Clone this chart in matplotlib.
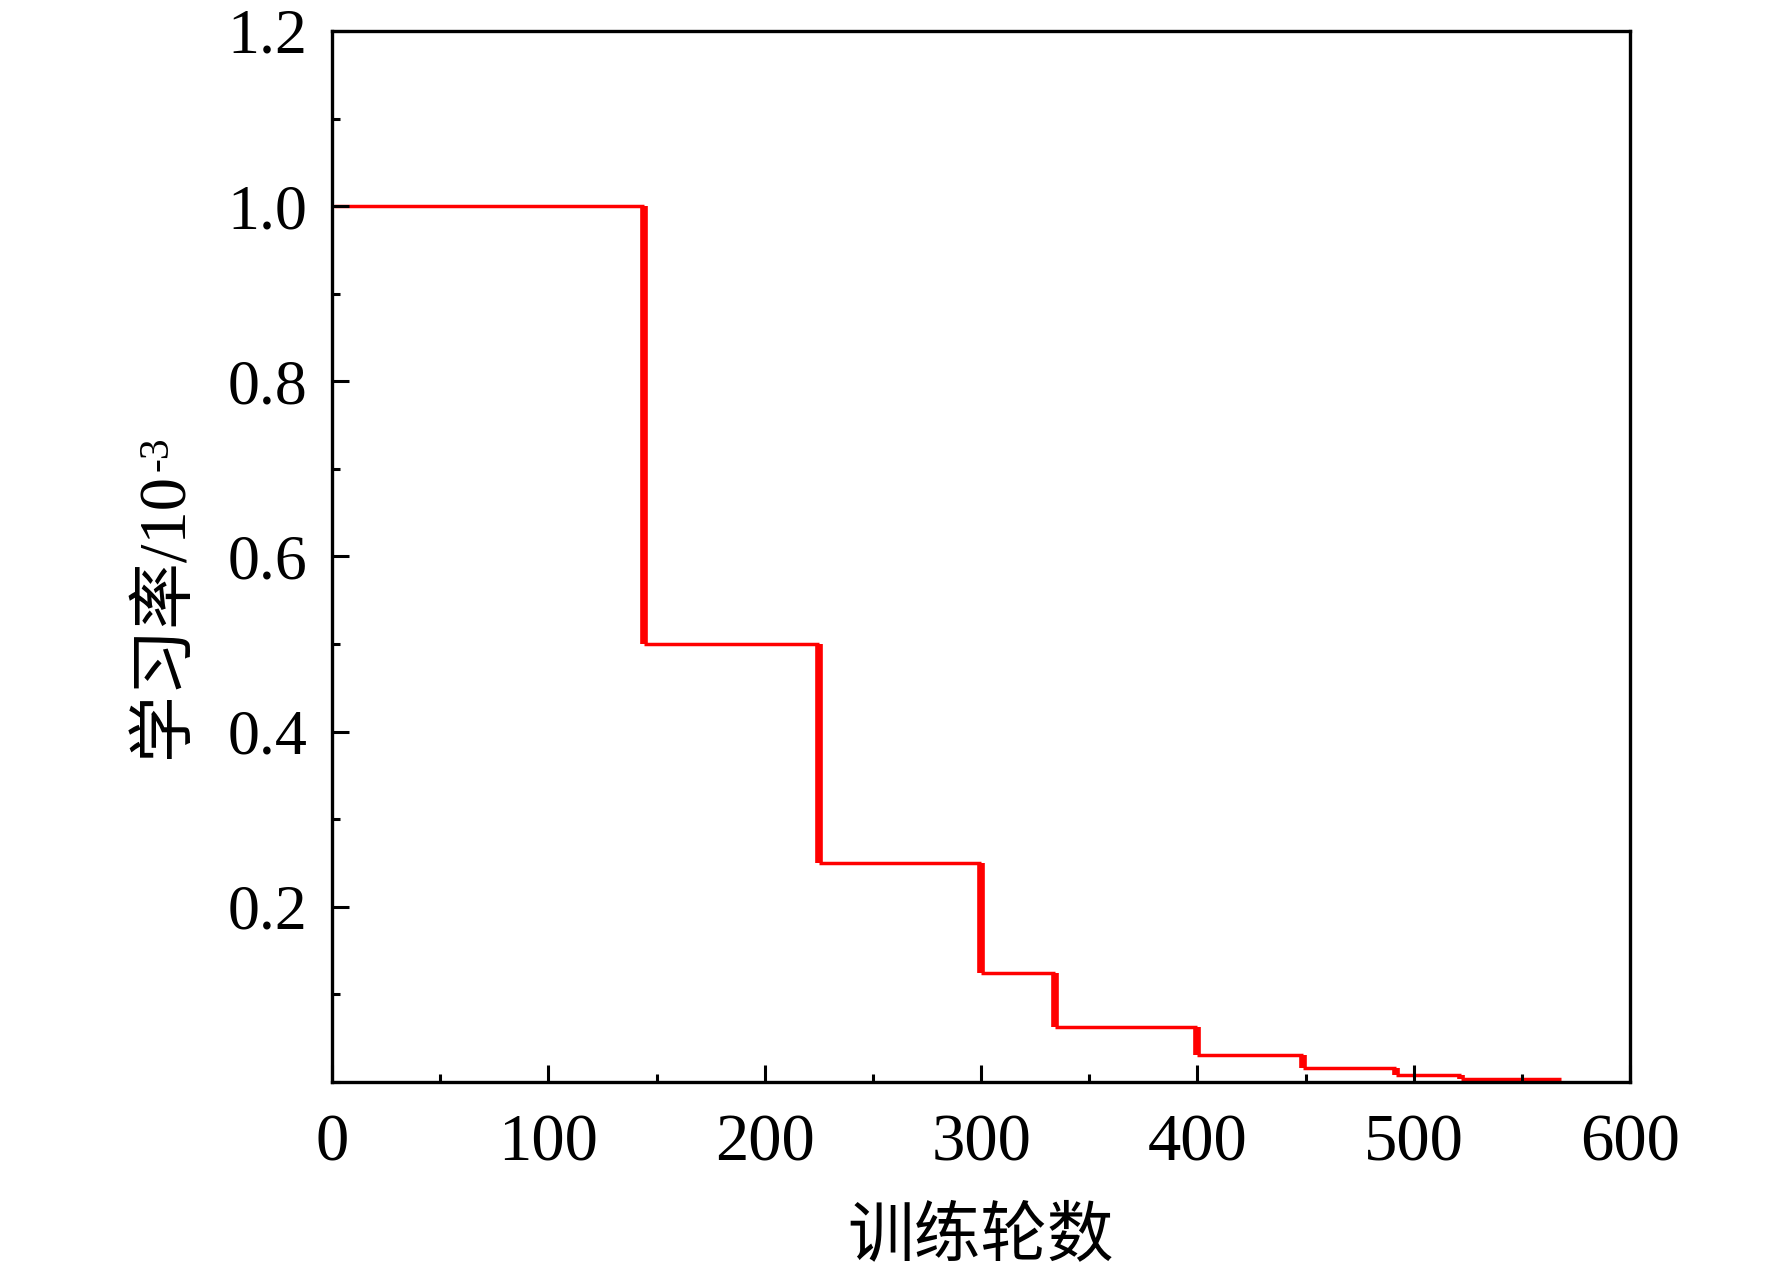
import matplotlib
matplotlib.use("Agg")
import matplotlib.pyplot as plt
from matplotlib.ticker import MultipleLocator


# learning-rate schedule (epoch where each level starts)
epochs = [1, 144, 225, 300, 334, 400, 449, 492, 522, 568]
lr = [1.0, 0.5, 0.25, 0.125, 0.0625, 0.03125, 0.015625, 0.0078125, 0.00390625]

xticks = [0, 100, 200, 300, 400, 500, 600]
yticks = [0.2, 0.4, 0.6, 0.8, 1.0, 1.2]
xlabel = "训练轮数"
ylabel = "学习率/10"
ylabel_exp = "-3"

serif = ["Liberation Serif", "Noto Sans CJK SC"]
plt.rcParams['font.family'] = serif

fig = plt.figure(figsize=(17.72, 12.79), dpi=100)
ax = fig.add_axes([0.1874, 0.154, 0.7325, 0.8218])

red = "#ff0000"
# flat parts thinner than the drops, as in the source picture
ax.hlines(lr, epochs[:-1], epochs[1:], color=red, lw=2.5, zorder=2)
ax.vlines(epochs[1:-1], lr[1:], lr[:-1], color=red, lw=5.5, zorder=2)

ax.set_xlim(0, 600)
ax.set_ylim(0, 1.2)
ax.set_xticks(xticks)
ax.set_yticks(yticks)
ax.set_yticklabels(["%.1f" % v for v in yticks])
ax.xaxis.set_minor_locator(MultipleLocator(50))
ax.yaxis.set_minor_locator(MultipleLocator(0.1))
ax.set_axisbelow(False)

ax.tick_params(which="both", direction="in", top=False, right=False, width=2.2, colors="black")
ax.tick_params(which="major", length=12)
ax.tick_params(which="minor", length=5.5)
ax.tick_params(axis="x", which="major", labelsize=48, pad=23)
ax.tick_params(axis="y", which="major", labelsize=46, pad=18)
for s in ax.spines.values():
	s.set_linewidth(2.4)

ax.set_xlabel(xlabel, fontsize=48, family=["Noto Sans CJK SC"], labelpad=20)
ax.set_ylabel(ylabel, fontsize=48, family=serif)
ax.yaxis.set_label_coords(-0.105, 0.444)

# small raised exponent after the y label
fig.canvas.draw()
bb = ax.yaxis.label.get_window_extent()
fig.text(bb.x0 + 4, bb.y1 + 2, ylabel_exp, fontsize=30, rotation=90,
	ha="left", va="bottom", transform=None)

fig.savefig("out.png", dpi=100)
